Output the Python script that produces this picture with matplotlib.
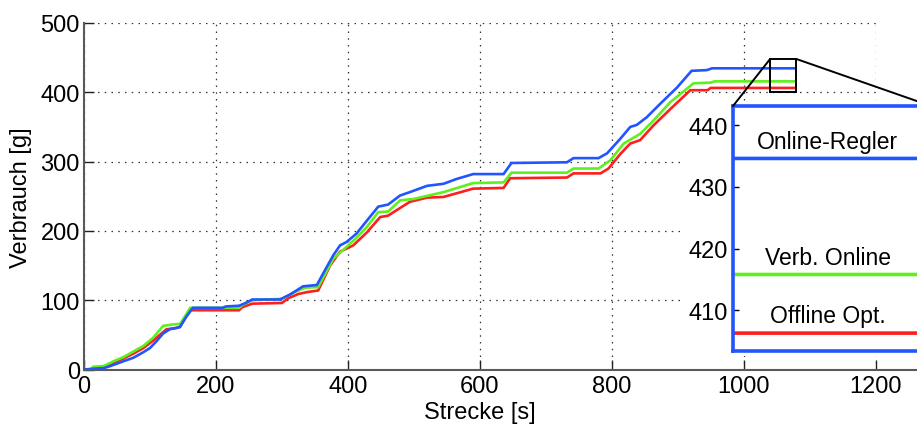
import matplotlib
matplotlib.use("Agg")
import matplotlib.pyplot as plt
from matplotlib.patches import Rectangle, ConnectionPatch
from matplotlib.transforms import blended_transform_factory

plt.rcParams["font.family"] = ["Liberation Sans", "DejaVu Sans"]

# Cumulative fuel consumption over the route, breakpoints of each curve
online_x = [0, 12, 30, 40, 60, 75, 90, 100, 110, 120, 130, 145, 155, 165, 210, 215, 235, 245,
            255, 297, 312, 332, 353, 368, 378, 388, 398, 413, 429, 446, 461, 479, 494, 520,
            545, 565, 590, 636, 648, 732, 742, 780, 793, 813, 828, 838, 853, 873, 899, 921,
            944, 952, 1078]
online_y = [0, 1, 2, 5, 12, 17, 25, 31, 41, 52, 58, 61, 76, 89, 89, 91, 92, 96,
            101, 101, 108, 120, 122, 148, 165, 179, 184, 196, 215, 235, 238, 251, 256, 265,
            268, 275, 282, 282, 298, 299, 305, 305, 312, 333, 350, 353, 364, 383, 407, 431,
            432, 434.6, 434.6]

verb_x = [0, 10, 14, 30, 45, 60, 75, 90, 105, 120, 135, 146, 161, 210, 235, 240, 255, 300,
          320, 335, 355, 378, 398, 413, 429, 446, 461, 479, 499, 545, 590, 636, 648, 732,
          742, 780, 798, 818, 843, 863, 889, 924, 950, 956, 1078]
verb_y = [0, 0, 4, 5, 12, 18, 26, 34, 46, 63, 65, 66, 89, 89, 89, 93, 100, 102,
          112, 118, 119, 160, 177, 190, 206, 227, 228, 244, 246, 256, 269, 270, 284, 284,
          290, 290, 302, 326, 340, 359, 386, 413, 414, 415.8, 415.8]

offline_x = [0, 10, 15, 30, 45, 60, 75, 90, 105, 125, 140, 146, 160, 235, 240, 255, 300, 310,
             325, 340, 355, 373, 388, 408, 429, 449, 461, 479, 494, 520, 545, 590, 636, 646,
             732, 742, 783, 795, 813, 828, 843, 863, 889, 919, 945, 950, 1078]
offline_y = [0, 0, 2, 4, 10, 16, 23, 31, 42, 58, 60, 62, 85.5, 85.5, 90, 95, 96, 103,
             109, 112, 114, 150, 170, 179, 198, 220, 222, 233, 242, 248, 249, 261, 262, 276,
             277, 283, 283, 290, 311, 326, 331, 352, 376, 403, 403, 406.3, 406.3]

series = [
    ("Online-Regler", online_x, online_y, "#2255ff"),
    ("Verb. Online", verb_x, verb_y, "#5ef01e"),
    ("Offline Opt.", offline_x, offline_y, "#ff1e1e"),
]

xticks = [0, 200, 400, 600, 800, 1000, 1200]
yticks = [0, 100, 200, 300, 400, 500]
inset_yticks = [410, 420, 430, 440]

# zoomed window around the final plateau
zoom_x = (1040, 1080)
zoom_y = (400, 448)
inset_ylim = (403.4, 443.1)

fs = 17
spine_col = "#5a5a5a"

fig = plt.figure(figsize=(9.17, 4.27), dpi=100)
ax = fig.add_axes([0.0916, 0.1323, 0.8633, 0.8115])

for name, xs, ys, col in series[::-1]:
    ax.plot(xs, ys, color=col, lw=1.9, solid_joinstyle="miter")

ax.set_xlim(0, 1200)
ax.set_ylim(0, 500)
ax.set_xticks(xticks)
ax.set_yticks(yticks)
ax.tick_params(direction="in", length=7, width=1.0, labelsize=fs, color="#222222")
ax.tick_params(axis="x", pad=4)
ax.tick_params(axis="y", pad=3)
ax.grid(True, color="#333333", lw=0.9, linestyle=(0, (1.2, 4.2)))
for side in ("top", "right"):
    ax.spines[side].set_visible(False)
for side in ("left", "bottom"):
    ax.spines[side].set_color(spine_col)
    ax.spines[side].set_linewidth(1.5)
ax.spines["bottom"].set_bounds(0, 1270)
ax.set_xlabel("Strecke [s]", fontsize=fs)
ax.set_ylabel("Verbrauch [g]", fontsize=fs)
ax.xaxis.set_label_coords(0.5, -0.092)
ax.yaxis.set_label_coords(-0.066, 0.5)

ax.add_patch(Rectangle((zoom_x[0], zoom_y[0]), zoom_x[1] - zoom_x[0], zoom_y[1] - zoom_y[0],
                       fill=False, ec="black", lw=1.4, zorder=5))

# white backing behind the inset and its tick labels
fig.patches.append(Rectangle((680 / 917, (427 - 357) / 427), 0.3, (357 - 104) / 427,
                             transform=fig.transFigure, fc="white", ec="none", zorder=1))

ins = fig.add_axes([733 / 917, (427 - 352) / 427, 198 / 917, 245 / 427], zorder=3)
for name, xs, ys, col in series:
    ins.plot(xs, ys, color=col, lw=2.6)
ins.set_xlim(*zoom_x)
ins.set_ylim(*inset_ylim)
ins.set_xticks([])
ins.set_yticks(inset_yticks)
ins.tick_params(direction="in", length=4, width=1.0, labelsize=fs, pad=4)
for side in ins.spines:
    ins.spines[side].set_color("#2255ff")
    ins.spines[side].set_linewidth(2.6)

lbl = blended_transform_factory(ins.transAxes, ins.transData)
for name, xs, ys, col in series:
    ins.text(0.478, ys[-1] + 2.8, name, transform=lbl, ha="center", va="center",
             fontsize=fs - 0.5)

for corner_a, corner_b in (((zoom_x[0], zoom_y[1]), (0, 1)), ((zoom_x[1], zoom_y[1]), (1, 1))):
    con = ConnectionPatch(xyA=corner_a, coordsA=ax.transData,
                          xyB=corner_b, coordsB=ins.transAxes,
                          color="black", lw=1.4, zorder=6)
    fig.add_artist(con)

fig.savefig("out.png", dpi=100)
